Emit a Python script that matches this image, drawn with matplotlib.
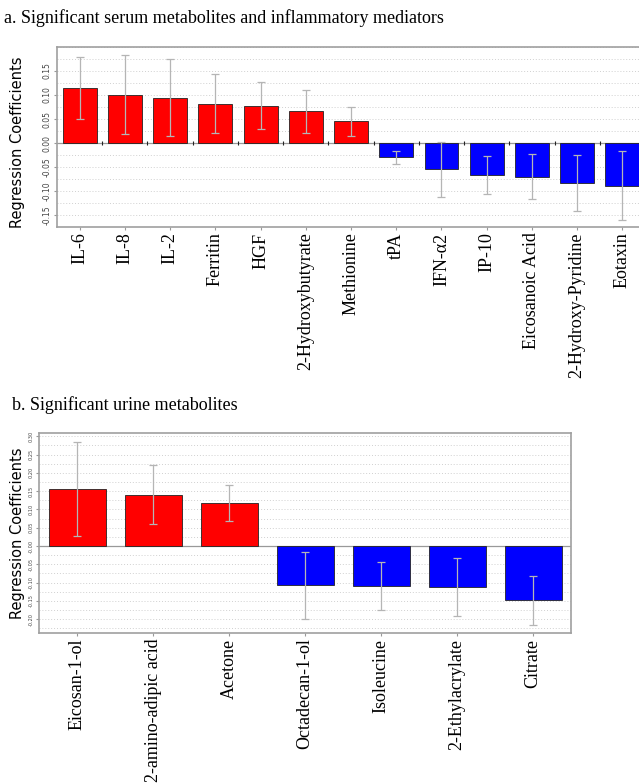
import matplotlib
matplotlib.use("Agg")
import matplotlib.pyplot as plt
import numpy as np

# Serum metabolites / inflammatory mediators
serum_names = ["IL-6", "IL-8", "IL-2", "Ferritin", "HGF", "2-Hydroxybutyrate",
               "Methionine", "tPA", "IFN-\u03b12", "IP-10", "Eicosanoic Acid",
               "2-Hydroxy-Pyridine", "Eotaxin"]
serum_coef = [0.114, 0.101, 0.094, 0.082, 0.078, 0.066, 0.045,
              -0.030, -0.055, -0.067, -0.070, -0.083, -0.089]
serum_err = [0.065, 0.083, 0.080, 0.062, 0.049, 0.045, 0.031,
             0.014, 0.057, 0.039, 0.047, 0.059, 0.072]

# Urine metabolites
urine_names = ["Eicosan-1-ol", "2-amino-adipic acid", "Acetone", "Octadecan-1-ol",
               "Isoleucine", "2-Ethylacrylate", "Citrate"]
urine_coef = [0.155, 0.140, 0.117, -0.108, -0.109, -0.112, -0.148]
urine_err = [0.129, 0.081, 0.049, 0.091, 0.066, 0.079, 0.067]

serif = "Liberation Serif"
sans = "DejaVu Sans"

fig = plt.figure(figsize=(6.39, 7.84), dpi=100)


def panel(ax, names, coef, err, ylim, yticks, tick_fs, capsize, mid_ticks):
    x = np.arange(len(names))
    colors = ["#ff0000" if c > 0 else "#0000ff" for c in coef]
    ax.bar(x, coef, width=0.75, color=colors, edgecolor="#222222", linewidth=0.6, zorder=3)
    ax.errorbar(x, coef, yerr=err, fmt="none", ecolor="#b5b5b5", elinewidth=0.9,
                capsize=capsize, capthick=0.9, zorder=4)
    ax.axhline(0, color="#999999", lw=0.9, zorder=2)
    if mid_ticks:
        ax.plot(x[:-1] + 0.5, np.zeros(len(x) - 1), "|", color="#222222", ms=2.5, mew=0.8, zorder=5)
    ax.set_xlim(-0.5, len(names) - 0.5)
    ax.set_xticks(x)
    ax.set_xticklabels(names, rotation=90, fontfamily=serif, fontsize=13, va="top")
    ax.set_yticks(yticks)
    ax.set_yticklabels(["%.2f" % v for v in yticks], rotation=90, va="center",
                       fontsize=tick_fs, color="#444444")
    ax.set_yticks(np.arange(-0.25, 0.326, 0.025), minor=True)
    ax.set_ylim(*ylim)
    ax.grid(True, which="both", axis="y", linestyle=(0, (1, 2)), color="#d0d0d0", lw=0.7, zorder=0)
    ax.tick_params(axis="x", length=2, color="#999999", pad=2)
    ax.tick_params(axis="y", which="major", length=2, color="#999999", pad=2)
    ax.tick_params(axis="y", which="minor", length=0)
    for s in ax.spines.values():
        s.set_color("#a0a0a0")
        s.set_linewidth(1.2)
    ax.set_ylabel("Regression Coefficients", fontfamily=sans, fontsize=10.5)


# panel a
ax1 = fig.add_axes([57 / 639, 1 - 227 / 784, 588 / 639, 180 / 784])
panel(ax1, serum_names, serum_coef, serum_err, (-0.175, 0.20),
      np.round(np.arange(-0.15, 0.151, 0.05), 2), 5.5, 3, True)
ax1.yaxis.set_label_coords(-0.054, 0.47)

# panel b
ax2 = fig.add_axes([39 / 639, 1 - 633 / 784, 532 / 639, 200 / 784])
panel(ax2, urine_names, urine_coef, urine_err, (-0.238, 0.309),
      np.round(np.arange(-0.20, 0.301, 0.05), 2), 3.6, 3, False)
ax2.yaxis.set_label_coords(-0.026, 0.5)

fig.text(4 / 639, 1 - 18 / 784, "a. Significant serum metabolites and inflammatory mediators",
         fontfamily=serif, fontsize=13, va="center", ha="left")
fig.text(12 / 639, 1 - 405 / 784, "b. Significant urine metabolites",
         fontfamily=serif, fontsize=13, va="center", ha="left")

fig.savefig("out.png", dpi=100)
